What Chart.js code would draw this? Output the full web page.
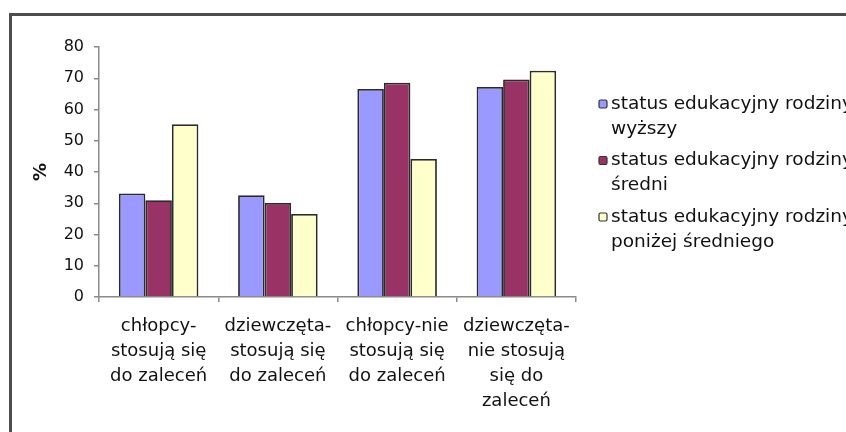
<!DOCTYPE html>
<html>
<head>
<meta charset="utf-8">
<script src="https://cdn.jsdelivr.net/npm/chart.js@4"></script>
<style>
  html, body { margin: 0; padding: 0; background: #fff; overflow: hidden; }
  #wrap { position: relative; width: 846px; height: 432px; }
  #frame {
    position: absolute; left: 9px; top: 13px; width: 900px; height: 500px;
    border-top: 3px solid #4d4d4d; border-left: 3px solid #4d4d4d;
    pointer-events: none;
  }
</style>
</head>
<body>
<div id="wrap">
  <canvas id="chart" width="846" height="432"></canvas>
  <div id="frame"></div>
</div>
<script>
const categories = [
    ['chłopcy-', 'stosują się', 'do zaleceń'],
    ['dziewczęta-', 'stosują się', 'do zaleceń'],
    ['chłopcy-nie', 'stosują się', 'do zaleceń'],
    ['dziewczęta-', 'nie stosują', 'się do', 'zaleceń'],
];
const seriesNames = [
    ['status edukacyjny rodziny', 'wyższy'],
    ['status edukacyjny rodziny', 'średni'],
    ['status edukacyjny rodziny', 'poniżej średniego'],
];
const wyzszy = [33.1, 32.6, 66.6, 67.2];
const sredni = [31.0, 30.1, 68.6, 69.6];
const ponizej = [55.3, 26.6, 44.2, 72.4];
const yTicks = [0, 10, 20, 30, 40, 50, 60, 70, 80];

const colors = ['#9999ff', '#993366', '#ffffcc'];
const FONT = "'DejaVu Sans', sans-serif";
const TEXT = '#111111';

// legend drawn by hand so each entry can wrap onto two lines
const sideLegend = {
    id: 'sideLegend',
    afterDraw(chart) {
        const ctx = chart.ctx;
        const x = chart.chartArea.right + 23;
        ctx.save();
        ctx.font = '18.5px ' + FONT;
        ctx.textBaseline = 'middle';
        ctx.textAlign = 'left';
        chart.data.datasets.forEach((ds, i) => {
            const y = 104 + i * 56.5;
            ctx.beginPath();
            ctx.roundRect(x, y - 4, 8, 8, 1.5);
            ctx.fillStyle = ds.backgroundColor;
            ctx.fill();
            ctx.lineWidth = 1.2;
            ctx.strokeStyle = '#333';
            ctx.stroke();
            ctx.fillStyle = TEXT;
            ds.label.forEach((line, j) => {
                ctx.fillText(line, x + 12, y + j * 25);
            });
        });
        ctx.restore();
    }
};

new Chart('chart', {
    type: 'bar',
    data: {
        labels: categories,
        datasets: [wyzszy, sredni, ponizej].map((vals, i) => ({
            label: seriesNames[i],
            data: vals,
            backgroundColor: colors[i],
            borderColor: '#2a2a2a',
            borderWidth: 1.8,
            categoryPercentage: 0.667,
            barPercentage: 1,
        })),
    },
    options: {
        responsive: false,
        animation: false,
        layout: { padding: { top: 47, right: 270, left: 0, bottom: 0 } },
        plugins: {
            legend: { display: false },
            tooltip: { enabled: false },
        },
        scales: {
            x: {
                grid: {
                    offset: true,
                    drawOnChartArea: false,
                    tickLength: 5,
                    color: '#8a8a8a',
                    lineWidth: 1.5,
                },
                border: { color: '#8a8a8a', width: 1.5 },
                ticks: {
                    padding: 12,
                    maxRotation: 0,
                    autoSkip: false,
                    color: TEXT,
                    font: { family: FONT, size: 18, lineHeight: '25px' },
                },
                afterFit(scale) { scale.height = 135; },
            },
            y: {
                min: 0,
                max: 80,
                afterBuildTicks(scale) { scale.ticks = yTicks.map(v => ({ value: v })); },
                grid: {
                    drawOnChartArea: false,
                    tickLength: 5,
                    color: '#8a8a8a',
                    lineWidth: 1.5,
                },
                border: { color: '#8a8a8a', width: 1.5 },
                ticks: {
                    padding: 10,
                    color: TEXT,
                    font: { family: FONT, size: 16 },
                },
                title: {
                    display: true,
                    text: '%',
                    color: TEXT,
                    padding: { top: 31, bottom: 0 },
                    font: { family: FONT, size: 18, weight: 'bold' },
                },
                afterFit(scale) { scale.width = 99; },
            },
        },
    },
    plugins: [sideLegend],
});
</script>
</body>
</html>
